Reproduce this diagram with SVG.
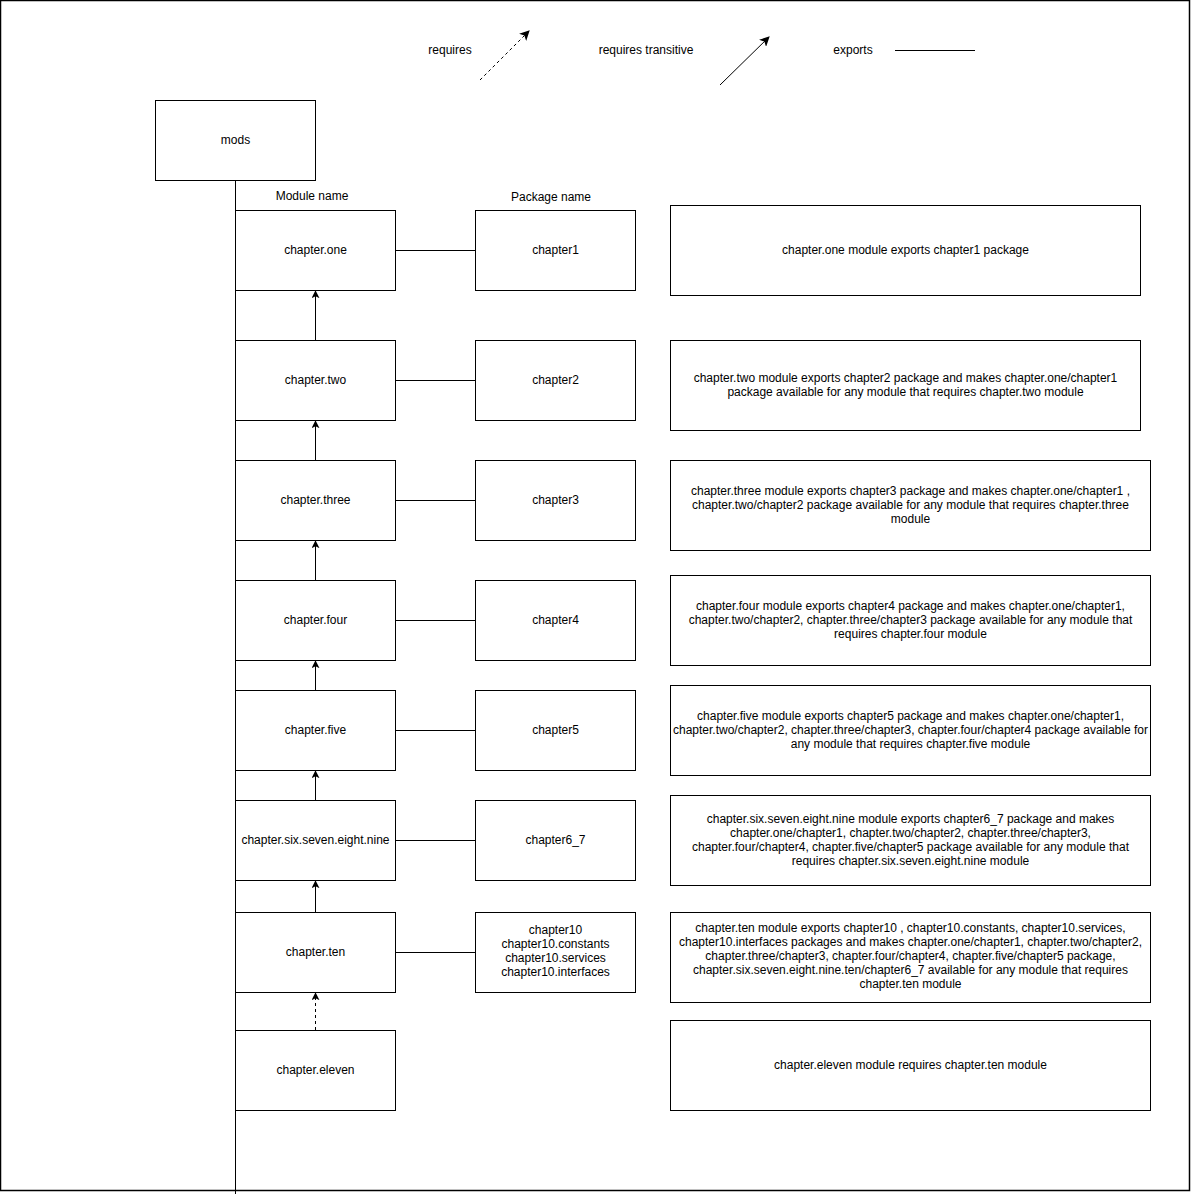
<svg xmlns="http://www.w3.org/2000/svg" width="1191" height="1196" viewBox="0 0 1191 1196">
  <style>
    .box { fill: #ffffff; stroke: #000000; stroke-width: 1; }
    .lbl { font-family: "Liberation Sans", Arial, sans-serif; font-size: 12px; fill: #000000; text-anchor: middle; }
    .edge { stroke: #000000; stroke-width: 1; fill: none; }
    .req { stroke-dasharray: 3 3; }
  </style>
  <defs>
    <marker id="head" viewBox="0 0 10 10" refX="9" refY="5" markerWidth="8" markerHeight="8" markerUnits="userSpaceOnUse" orient="auto">
      <path d="M0,0 L10,5 L0,10 L2.5,5 Z" fill="#000000"/>
    </marker>
    <marker id="headL" viewBox="0 0 10 10" refX="9" refY="5" markerWidth="10" markerHeight="10" markerUnits="userSpaceOnUse" orient="auto">
      <path d="M0,0 L10,5 L0,10 L2.5,5 Z" fill="#000000"/>
    </marker>
  </defs>

  <rect x="0.5" y="0.5" width="1189" height="1190" fill="#ffffff" stroke="#000000" stroke-width="1.5"/>

  <!-- legend -->
  <g id="legend">
    <text class="lbl" x="450" y="54">requires</text>
    <line class="edge req" x1="480" y1="80" x2="529" y2="31" marker-end="url(#headL)"/>
    <text class="lbl" x="646" y="54">requires transitive</text>
    <line class="edge" x1="720" y1="85" x2="769" y2="37" marker-end="url(#headL)"/>
    <text class="lbl" x="853" y="54">exports</text>
    <line class="edge" x1="895" y1="50.5" x2="975" y2="50.5"/>
  </g>

  <!-- connectors -->
  <g id="connectors">
    <line class="edge" x1="235.5" y1="180" x2="235.5" y2="1194"/>
    <line class="edge" x1="395" y1="250.5" x2="475" y2="250.5"/>
    <line class="edge" x1="395" y1="380.5" x2="475" y2="380.5"/>
    <line class="edge" x1="395" y1="500.5" x2="475" y2="500.5"/>
    <line class="edge" x1="395" y1="620.5" x2="475" y2="620.5"/>
    <line class="edge" x1="395" y1="730.5" x2="475" y2="730.5"/>
    <line class="edge" x1="395" y1="840.5" x2="475" y2="840.5"/>
    <line class="edge" x1="395" y1="952.5" x2="475" y2="952.5"/>
    <line class="edge" x1="315.5" y1="340" x2="315.5" y2="291" marker-end="url(#head)"/>
    <line class="edge" x1="315.5" y1="460" x2="315.5" y2="421" stroke-width="2" marker-end="url(#head)"/>
    <line class="edge" x1="315.5" y1="580" x2="315.5" y2="541" marker-end="url(#head)"/>
    <line class="edge" x1="315.5" y1="690" x2="315.5" y2="661" marker-end="url(#head)"/>
    <line class="edge" x1="315.5" y1="800" x2="315.5" y2="771" marker-end="url(#head)"/>
    <line class="edge" x1="315.5" y1="912" x2="315.5" y2="881" marker-end="url(#head)"/>
    <line class="edge req" x1="315.5" y1="1030" x2="315.5" y2="993" marker-end="url(#head)"/>
  </g>

  <!-- root -->
  <g id="mods">
    <rect class="box" x="155.5" y="100.5" width="160" height="80"/>
    <text class="lbl" x="235.5" y="144">mods</text>
  </g>
  <text class="lbl" x="312" y="200">Module name</text>
  <text class="lbl" x="551" y="201">Package name</text>

  <!-- modules -->
  <g id="mod-one"><rect class="box" x="235.5" y="210.5" width="160" height="80"/><text class="lbl" x="315.5" y="254">chapter.one</text></g>
  <g id="mod-two"><rect class="box" x="235.5" y="340.5" width="160" height="80"/><text class="lbl" x="315.5" y="384">chapter.two</text></g>
  <g id="mod-three"><rect class="box" x="235.5" y="460.5" width="160" height="80"/><text class="lbl" x="315.5" y="504">chapter.three</text></g>
  <g id="mod-four"><rect class="box" x="235.5" y="580.5" width="160" height="80"/><text class="lbl" x="315.5" y="624">chapter.four</text></g>
  <g id="mod-five"><rect class="box" x="235.5" y="690.5" width="160" height="80"/><text class="lbl" x="315.5" y="734">chapter.five</text></g>
  <g id="mod-six"><rect class="box" x="235.5" y="800.5" width="160" height="80"/><text class="lbl" x="315.5" y="844">chapter.six.seven.eight.nine</text></g>
  <g id="mod-ten"><rect class="box" x="235.5" y="912.5" width="160" height="80"/><text class="lbl" x="315.5" y="956">chapter.ten</text></g>
  <g id="mod-eleven"><rect class="box" x="235.5" y="1030.5" width="160" height="80"/><text class="lbl" x="315.5" y="1074">chapter.eleven</text></g>

  <!-- packages -->
  <g id="pkg-1"><rect class="box" x="475.5" y="210.5" width="160" height="80"/><text class="lbl" x="555.5" y="254">chapter1</text></g>
  <g id="pkg-2"><rect class="box" x="475.5" y="340.5" width="160" height="80"/><text class="lbl" x="555.5" y="384">chapter2</text></g>
  <g id="pkg-3"><rect class="box" x="475.5" y="460.5" width="160" height="80"/><text class="lbl" x="555.5" y="504">chapter3</text></g>
  <g id="pkg-4"><rect class="box" x="475.5" y="580.5" width="160" height="80"/><text class="lbl" x="555.5" y="624">chapter4</text></g>
  <g id="pkg-5"><rect class="box" x="475.5" y="690.5" width="160" height="80"/><text class="lbl" x="555.5" y="734">chapter5</text></g>
  <g id="pkg-6"><rect class="box" x="475.5" y="800.5" width="160" height="80"/><text class="lbl" x="555.5" y="844">chapter6_7</text></g>
  <g id="pkg-10">
    <rect class="box" x="475.5" y="912.5" width="160" height="80"/>
    <text class="lbl" x="555.5" y="934">chapter10</text>
    <text class="lbl" x="555.5" y="948">chapter10.constants</text>
    <text class="lbl" x="555.5" y="962">chapter10.services</text>
    <text class="lbl" x="555.5" y="976">chapter10.interfaces</text>
  </g>

  <!-- descriptions -->
  <g id="desc-one">
    <rect class="box" x="670.5" y="205.5" width="470" height="90"/>
    <text class="lbl" x="905.5" y="254">chapter.one module exports chapter1 package</text>
  </g>
  <g id="desc-two">
    <rect class="box" x="670.5" y="340.5" width="470" height="90"/>
    <text class="lbl" x="905.5" y="382">chapter.two module exports chapter2 package and makes chapter.one/chapter1</text>
    <text class="lbl" x="905.5" y="396">package available for any module that requires chapter.two module</text>
  </g>
  <g id="desc-three">
    <rect class="box" x="670.5" y="460.5" width="480" height="90"/>
    <text class="lbl" x="910.5" y="495">chapter.three module exports chapter3 package and makes chapter.one/chapter1 ,</text>
    <text class="lbl" x="910.5" y="509">chapter.two/chapter2 package available for any module that requires chapter.three</text>
    <text class="lbl" x="910.5" y="523">module</text>
  </g>
  <g id="desc-four">
    <rect class="box" x="670.5" y="575.5" width="480" height="90"/>
    <text class="lbl" x="910.5" y="610">chapter.four module exports chapter4 package and makes chapter.one/chapter1,</text>
    <text class="lbl" x="910.5" y="624">chapter.two/chapter2, chapter.three/chapter3 package available for any module that</text>
    <text class="lbl" x="910.5" y="638">requires chapter.four module</text>
  </g>
  <g id="desc-five">
    <rect class="box" x="670.5" y="685.5" width="480" height="90"/>
    <text class="lbl" x="910.5" y="720">chapter.five module exports chapter5 package and makes chapter.one/chapter1,</text>
    <text class="lbl" x="910.5" y="734">chapter.two/chapter2, chapter.three/chapter3, chapter.four/chapter4 package available for</text>
    <text class="lbl" x="910.5" y="748">any module that requires chapter.five module</text>
  </g>
  <g id="desc-six">
    <rect class="box" x="670.5" y="795.5" width="480" height="90"/>
    <text class="lbl" x="910.5" y="823">chapter.six.seven.eight.nine module exports chapter6_7 package and makes</text>
    <text class="lbl" x="910.5" y="837">chapter.one/chapter1, chapter.two/chapter2, chapter.three/chapter3,</text>
    <text class="lbl" x="910.5" y="851">chapter.four/chapter4, chapter.five/chapter5 package available for any module that</text>
    <text class="lbl" x="910.5" y="865">requires chapter.six.seven.eight.nine module</text>
  </g>
  <g id="desc-ten">
    <rect class="box" x="670.5" y="912.5" width="480" height="90"/>
    <text class="lbl" x="910.5" y="932">chapter.ten module exports chapter10 , chapter10.constants, chapter10.services,</text>
    <text class="lbl" x="910.5" y="946">chapter10.interfaces packages and makes chapter.one/chapter1, chapter.two/chapter2,</text>
    <text class="lbl" x="910.5" y="960">chapter.three/chapter3, chapter.four/chapter4, chapter.five/chapter5 package,</text>
    <text class="lbl" x="910.5" y="974">chapter.six.seven.eight.nine.ten/chapter6_7 available for any module that requires</text>
    <text class="lbl" x="910.5" y="988">chapter.ten module</text>
  </g>
  <g id="desc-eleven">
    <rect class="box" x="670.5" y="1020.5" width="480" height="90"/>
    <text class="lbl" x="910.5" y="1069">chapter.eleven module requires chapter.ten module</text>
  </g>
</svg>
